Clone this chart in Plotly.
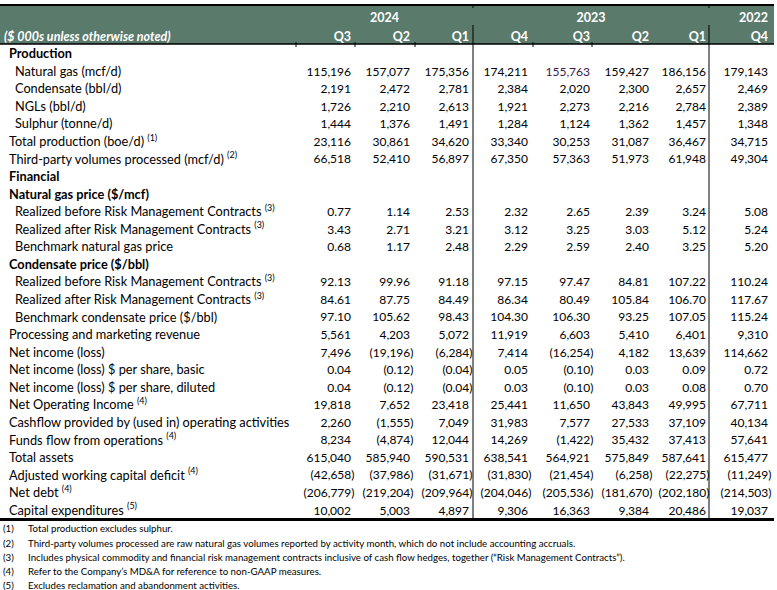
import plotly.graph_objects as go

# ---------------- data ----------------
years = ["2024", "2023", "2022"]
quarters = ["Q3", "Q2", "Q1", "Q4", "Q3", "Q2", "Q1", "Q4"]
unit_note = "($ 000s unless otherwise noted)"

row_labels = [
    "Production", "Natural gas (mcf/d)", "Condensate (bbl/d)", "NGLs (bbl/d)", "Sulphur (tonne/d)",
    "Total production (boe/d)", "Third-party volumes processed (mcf/d)", "Financial",
    "Natural gas price ($/mcf)", "Realized before Risk Management Contracts",
    "Realized after Risk Management Contracts", "Benchmark natural gas price",
    "Condensate price ($/bbl)", "Realized before Risk Management Contracts",
    "Realized after Risk Management Contracts", "Benchmark condensate price ($/bbl)",
    "Processing and marketing revenue", "Net income (loss)", "Net income (loss) $ per share, basic",
    "Net income (loss) $ per share, diluted", "Net Operating Income",
    "Cashflow provided by (used in) operating activities", "Funds flow from operations",
    "Total assets", "Adjusted working capital deficit", "Net debt", "Capital expenditures",
]
row_level = [0, 1, 1, 1, 1, 0, 0, 0, 0, 1, 1, 1, 0, 1, 1, 1, 0, 0, 0, 0, 0, 0, 0, 0, 0, 0, 0]
row_bold = [1, 0, 0, 0, 0, 0, 0, 1, 1, 0, 0, 0, 1, 0, 0, 0, 0, 0, 0, 0, 0, 0, 0, 0, 0, 0, 0]
row_note = ["", "", "", "", "", "1", "2", "", "", "3", "3", "", "", "3", "3", "", "", "", "", "",
            "4", "", "4", "", "4", "4", "5"]
row_decimals = [0, 0, 0, 0, 0, 0, 0, 0, 0, 2, 2, 2, 0, 2, 2, 2, 0, 0, 2, 2, 0, 0, 0, 0, 0, 0, 0]

natural_gas = [115196, 157077, 175356, 174211, 155763, 159427, 186156, 179143]
condensate = [2191, 2472, 2781, 2384, 2020, 2300, 2657, 2469]
ngls = [1726, 2210, 2613, 1921, 2273, 2216, 2784, 2389]
sulphur = [1444, 1376, 1491, 1284, 1124, 1362, 1457, 1348]
total_production = [23116, 30861, 34620, 33340, 30253, 31087, 36467, 34715]
third_party = [66518, 52410, 56897, 67350, 57363, 51973, 61948, 49304]
gas_before = [0.77, 1.14, 2.53, 2.32, 2.65, 2.39, 3.24, 5.08]
gas_after = [3.43, 2.71, 3.21, 3.12, 3.25, 3.03, 5.12, 5.24]
gas_benchmark = [0.68, 1.17, 2.48, 2.29, 2.59, 2.40, 3.25, 5.20]
cond_before = [92.13, 99.96, 91.18, 97.15, 97.47, 84.81, 107.22, 110.24]
cond_after = [84.61, 87.75, 84.49, 86.34, 80.49, 105.84, 106.70, 117.67]
cond_benchmark = [97.10, 105.62, 98.43, 104.30, 106.30, 93.25, 107.05, 115.24]
processing_revenue = [5561, 4203, 5072, 11919, 6603, 5410, 6401, 9310]
net_income = [7496, -19196, -6284, 7414, -16254, 4182, 13639, 114662]
eps_basic = [0.04, -0.12, -0.04, 0.05, -0.10, 0.03, 0.09, 0.72]
eps_diluted = [0.04, -0.12, -0.04, 0.03, -0.10, 0.03, 0.08, 0.70]
net_operating_income = [19818, 7652, 23418, 25441, 11650, 43843, 49995, 67711]
cashflow_ops = [2260, -1555, 7049, 31983, 7577, 27533, 37109, 40134]
funds_flow = [8234, -4874, 12044, 14269, -1422, 35432, 37413, 57641]
total_assets = [615040, 585940, 590531, 638541, 564921, 575849, 587641, 615477]
working_capital_deficit = [-42658, -37986, -31671, -31830, -21454, -6258, -22275, -11249]
net_debt = [-206779, -219204, -209964, -204046, -205536, -181670, -202180, -214503]
capex = [10002, 5003, 4897, 9306, 16363, 9384, 20486, 19037]

footnote_marks = ["(1)", "(2)", "(3)", "(4)", "(5)"]
footnotes = [
    "Total production excludes sulphur.",
    "Third-party volumes processed are raw natural gas volumes reported by activity month, which do not include accounting accruals.",
    "Includes physical commodity and financial risk management contracts inclusive of cash flow hedges, together (\u201cRisk Management Contracts\u201d).",
    "Refer to the Company\u2019s MD&A for reference to non-GAAP measures.",
    "Excludes reclamation and abandonment activities.",
]

row_values = [
    None, natural_gas, condensate, ngls, sulphur, total_production, third_party, None, None,
    gas_before, gas_after, gas_benchmark, None, cond_before, cond_after, cond_benchmark,
    processing_revenue, net_income, eps_basic, eps_diluted, net_operating_income, cashflow_ops,
    funds_flow, total_assets, working_capital_deficit, net_debt, capex,
]

# ---------------- layout geometry ----------------
W, H = 777, 590
col_right = [351, 410, 469, 528, 590, 649, 706, 768]
year_x = [384.5, 591, 768]
sep_x = [473, 709]
tick_x = [296, 355, 415, 533, 592]
TEXT_DY = 3  # scatter text sits slightly above its anchor
row_y0, row_dy = 52 + TEXT_DY, 17.56
foot_y0, foot_dy = 527 + TEXT_DY, 14.2
head_y = [16 + TEXT_DY, 35 + TEXT_DY]
level_x = [9, 15]
paren_pad = 3.5
FONT = "Lato, 'Open Sans', sans-serif"
NARROW = "'Liberation Sans Narrow', 'Arial Narrow', Lato, sans-serif"
HEADER_BG = "#5a7a6c"


def fmt(v, d):
    s = f"{abs(v):,.{d}f}"
    return f"({s})" if v < 0 else s


row_y = [row_y0 + i * row_dy for i in range(len(row_labels))]

fig = go.Figure()

# row labels
lab_text = []
for lab, b, n in zip(row_labels, row_bold, row_note):
    t = f"<b>{lab}</b>" if b else lab
    if n:
        t += f" <sup>({n})</sup>"
    lab_text.append(t)
fig.add_trace(go.Scatter(
    x=[level_x[l] for l in row_level], y=row_y, mode="text", text=lab_text,
    textposition="middle right", textfont=dict(family=FONT, size=12.75, color="black"),
    hoverinfo="skip", showlegend=False, cliponaxis=False))

# numeric columns
for c in range(len(quarters)):
    xs, ys, ts, cols = [], [], [], []
    for r, vals in enumerate(row_values):
        if vals is None:
            continue
        v = vals[c]
        xs.append(col_right[c] + (paren_pad if v < 0 else 0))
        ys.append(row_y[r])
        ts.append(fmt(v, row_decimals[r]))
        cols.append("#3a1845" if (vals is natural_gas and c == 4) else "black")
    fig.add_trace(go.Scatter(
        x=xs, y=ys, mode="text", text=ts, textposition="middle left",
        textfont=dict(family=FONT, size=12, color=cols),
        hoverinfo="skip", showlegend=False, cliponaxis=False))

# header texts
fig.add_trace(go.Scatter(
    x=year_x, y=[head_y[0]] * 3, mode="text", text=[f"<b>{y}</b>" for y in years],
    textposition=["middle center", "middle center", "middle left"],
    textfont=dict(family=FONT, size=12.5, color="white"),
    hoverinfo="skip", showlegend=False, cliponaxis=False))
fig.add_trace(go.Scatter(
    x=col_right, y=[head_y[1]] * len(quarters), mode="text", text=[f"<b>{q}</b>" for q in quarters],
    textposition="middle left", textfont=dict(family=FONT, size=12.5, color="white"),
    hoverinfo="skip", showlegend=False, cliponaxis=False))
fig.add_trace(go.Scatter(
    x=[4], y=[head_y[1]], mode="text", text=[f"<b><i>{unit_note}</i></b>"],
    textposition="middle right", textfont=dict(family=FONT, size=12.5, color="white"),
    hoverinfo="skip", showlegend=False, cliponaxis=False))

# footnotes
foot_y = [foot_y0 + i * foot_dy for i in range(len(footnotes))]
fig.add_trace(go.Scatter(
    x=[3] * len(footnotes), y=foot_y, mode="text", text=footnote_marks,
    textposition="middle right", textfont=dict(family=NARROW, size=9.7, color="black"),
    hoverinfo="skip", showlegend=False, cliponaxis=False))
fig.add_trace(go.Scatter(
    x=[28] * len(footnotes), y=foot_y, mode="text", text=footnotes,
    textposition="middle right", textfont=dict(family=NARROW, size=9.7, color="black"),
    hoverinfo="skip", showlegend=False, cliponaxis=False))

# shapes
shapes = [
    dict(type="rect", x0=0, x1=W - 3, y0=5, y1=44, fillcolor=HEADER_BG, line_width=0, layer="below"),
    dict(type="line", x0=0, x1=W - 3, y0=5, y1=5, line=dict(color="black", width=2)),
    dict(type="line", x0=0, x1=W - 3, y0=44, y1=44, line=dict(color="black", width=1.5)),
    dict(type="line", x0=0, x1=W - 3, y0=519.5, y1=519.5, line=dict(color="black", width=3)),
]
for sx in sep_x:
    shapes.append(dict(type="line", x0=sx, x1=sx, y0=25, y1=519, line=dict(color="black", width=1)))
    shapes.append(dict(type="line", x0=sx, x1=sx, y0=4, y1=8, line=dict(color="black", width=1)))
for tx in tick_x:
    shapes.append(dict(type="line", x0=tx, x1=tx, y0=42, y1=47, line=dict(color="black", width=1)))

fig.update_layout(
    width=W, height=H, margin=dict(l=0, r=0, t=0, b=0),
    paper_bgcolor="white", plot_bgcolor="white", shapes=shapes,
    xaxis=dict(range=[0, W], visible=False, fixedrange=True),
    yaxis=dict(range=[H, 0], visible=False, fixedrange=True),
)
fig.write_html("out.html", config={"displayModeBar": False},
               post_script="document.body.style.margin='0px';")
